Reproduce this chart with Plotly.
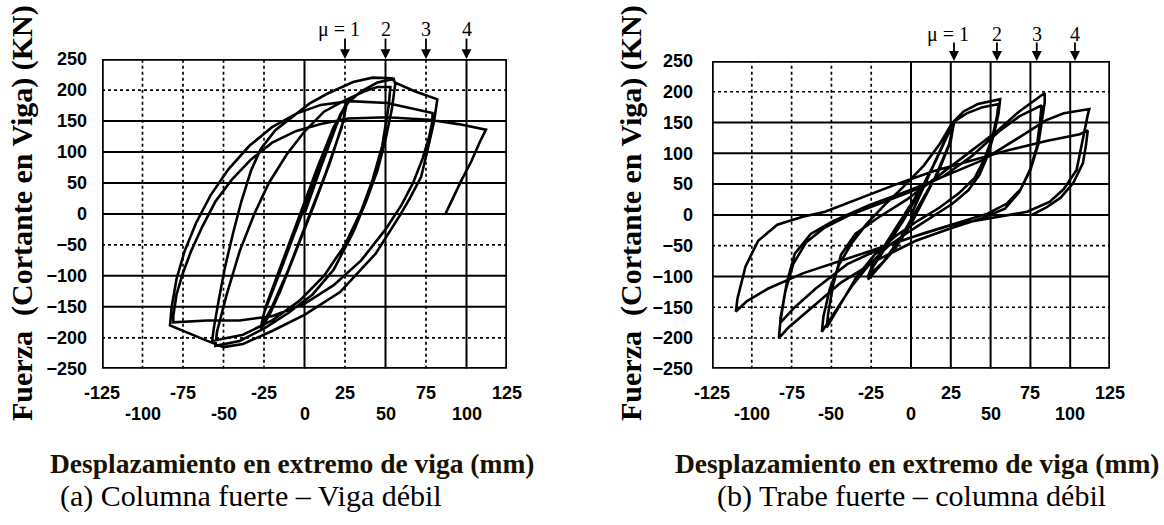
import plotly.graph_objects as go

# Panel (a): beam-tip displacement (mm) and beam shear (kN), cycle by cycle
disp_a = [0, 10, 20, 26,
          24, 16, 6, -5, -15, -22, -27,
          -25, -16, -6, 5, 15, 22, 26,
          23, 13, 2, -10, -20, -27,
          -24, -14, -3, 8, 18, 27, 35, 45, 55, 56,
          54, 50, 45, 38, 30, 18, 5, -10, -25, -40, -55,
          -54, -48, -40, -31, -22, -11, 0, 12, 24, 37, 45, 53,
          52, 48, 42, 35, 25, 12, -3, -20, -38, -57,
          -56, -53, -49, -44, -39, -33, -27, -18, -7, 3, 14, 30, 42, 54, 56, 68, 82, 81,
          80, 77, 72, 65, 59, 44, 22, 0, -20, -38, -50, -60, -72, -83,
          -82, -79, -74, -67, -58, -47, -34, -20, -5, 10, 28, 51, 79,
          79, 77, 73, 67, 60, 50, 35, 18, 0, -20, -40, -60, -81, -81,
          -79, -75, -70, -63, -55, -45, -33, -20, -5, 10, 27, 51, 77, 95, 112,
          108, 103, 97, 92, 87]
force_a = [0, 75, 145, 180,
           150, 85, 15, -60, -125, -165, -185,
           -160, -100, -30, 45, 115, 160, 178,
           140, 65, -10, -90, -150, -183,
           -150, -80, 0, 75, 140, 180, 198, 212, 218, 210,
           170, 120, 70, 20, -30, -90, -130, -160, -185, -205, -213,
           -190, -130, -60, 0, 50, 96, 133, 165, 182, 198, 205, 205,
           175, 110, 55, 5, -50, -100, -140, -172, -195, -205,
           -185, -140, -85, -30, 20, 70, 105, 135, 158, 178, 194, 213, 220, 219, 212, 198, 185, 170,
           150, 115, 60, 25, -2, -64, -126, -163, -189, -210, -215, -205, -192, -180,
           -150, -105, -60, -15, 30, 72, 110, 140, 162, 176, 182, 179, 163,
           150, 125, 90, 50, 15, -25, -75, -115, -145, -165, -172, -172, -175, -165,
           -130, -95, -60, -20, 20, 55, 88, 115, 134, 145, 154, 156, 152, 145, 136,
           115, 85, 55, 28, 0]

# Panel (b)
disp_b = [0, 8, 16, 22, 27,
          25, 18, 10, 0, -10, -20, -27,
          -24, -15, -5, 5, 14, 21, 27,
          24, 15, 5, -6, -17, -27,
          -24, -14, -3, 8, 16, 22, 27, 33, 42, 56,
          55, 52, 48, 43, 36, 26, 14, 0, -14, -26, -37, -46, -52, -56,
          -55, -51, -45, -37, -28, -17, -5, 8, 18, 26, 35, 45, 55,
          54, 51, 46, 40, 30, 18, 4, -10, -23, -34, -43, -50, -53,
          -52, -49, -44, -35, -21, -2, 17, 35, 54, 68, 84,
          84, 82, 80, 75, 68, 59, 45, 26, 3, -21, -44, -63, -77, -83,
          -82, -79, -74, -66, -55, -40, -20, 0, 20, 38, 55, 68, 82,
          81, 79, 75, 69, 60, 48, 30, 8, -15, -40, -60, -73, -82,
          -82, -78, -73, -63, -49, -26, -2, 21, 45, 68, 85, 96, 112,
          111, 108, 104, 96, 87, 73, 50, 26, 2, -21, -44, -68, -90, -103, -110,
          -109, -104, -96, -84, -68, -54, -33, -9, 14, 38, 61, 85, 106, 111,
          110, 108, 102, 94, 85, 76]
force_b = [0, 45, 90, 125, 150,
           120, 75, 35, -15, -55, -85, -105,
           -85, -50, -10, 35, 80, 120, 148,
           115, 60, 15, -35, -75, -100,
           -80, -40, 5, 50, 90, 125, 152, 168, 180, 188,
           165, 130, 95, 65, 40, 18, -2, -25, -50, -80, -115, -150, -175, -190,
           -165, -120, -80, -45, -15, 15, 45, 80, 115, 150, 165, 175, 180,
           160, 125, 90, 60, 35, 12, -10, -35, -65, -100, -140, -170, -183,
           -160, -115, -65, -31, -5, 26, 63, 99, 136, 168, 198,
           183, 152, 115, 73, 37, 10, -5, -21, -42, -73, -110, -152, -183, -200,
           -172, -125, -80, -45, -22, -2, 18, 38, 62, 95, 135, 160, 178,
           150, 110, 75, 42, 18, 2, -12, -30, -50, -80, -120, -150, -175,
           -168, -110, -63, -31, -10, 16, 39, 63, 89, 126, 154, 165, 172,
           162, 126, 73, 42, 21, 5, -5, -16, -35, -55, -75, -95, -120, -140, -157,
           -136, -84, -42, -16, -3, 5, 26, 50, 71, 89, 105, 120, 131, 137,
           115, 84, 52, 28, 12, 0]

x_ticks = [-125, -100, -75, -50, -25, 0, 25, 50, 75, 100, 125]
y_ticks = [-250, -200, -150, -100, -50, 0, 50, 100, 150, 200, 250]

# Grid styles per panel: True = solid, False = dotted
vgrid_a = {-100: False, -75: False, -50: False, -25: False, 0: True, 25: False, 50: True, 75: False, 100: True}
hgrid_a = {-200: False, -150: True, -100: True, -50: False, 0: True, 50: True, 100: True, 150: True, 200: False}
vgrid_b = {-100: False, -75: False, -50: False, -25: False, 0: True, 25: True, 50: True, 75: True, 100: True}
hgrid_b = {-200: False, -150: False, -100: True, -50: False, 0: True, 50: True, 100: True, 150: True, 200: False}

mu_labels = ["\u03bc = 1", "2", "3", "4"]
mu_pos_a = [25, 50, 75, 100]
mu_pos_b = [27, 54, 79, 103]

x_title = "Desplazamiento en extremo de viga (mm)"
y_title = "Fuerza\u00a0 (Cortante en Viga) (KN)"
captions = ["(a) Columna fuerte \u2013 Viga d\u00e9bil", "(b) Trabe fuerte \u2013 columna d\u00e9bil"]

W, H = 1164, 525
dom_a = ([102 / W, 507 / W], [1 - 373 / H, 1 - 51 / H])
dom_b = ([712 / W, 1110 / W], [1 - 373 / H, 1 - 53 / H])

fig = go.Figure()

# axis refs, data, grid styles, arrows, domain, title x, caption x, y-title x, mu label y, arrow length
panels = [
    ("x", "y", disp_a, force_a, vgrid_a, hgrid_a, mu_pos_a, dom_a, 292, 251, 22, 20, 22),
    ("x2", "y2", disp_b, force_b, vgrid_b, hgrid_b, mu_pos_b, dom_b, 917, 911, 631, 25, 20),
]

tick_font = dict(family="Liberation Sans", size=18, color="black", weight="bold")
shapes = []
annotations = []

for i, (xr, yr, dx, fy, vg, hg, mupos, dom, tx, cpx, ytx, muy, alen) in enumerate(panels):
    fig.add_trace(go.Scatter(x=dx, y=fy, xaxis=xr, yaxis=yr, mode="lines",
                             line=dict(color="black", width=2.6),
                             hoverinfo="skip", showlegend=False))
    # grid lines
    for v, solid in vg.items():
        shapes.append(dict(type="line", xref=xr, yref=yr, x0=v, x1=v, y0=-250, y1=250,
                           line=dict(color="black", width=2 if solid else 1.7, dash="solid" if solid else "dot"),
                           layer="below"))
    for v, solid in hg.items():
        shapes.append(dict(type="line", xref=xr, yref=yr, x0=-125, x1=125, y0=v, y1=v,
                           line=dict(color="black", width=2 if solid else 1.7, dash="solid" if solid else "dot"),
                           layer="below"))
    # frame
    shapes.append(dict(type="rect", xref=xr, yref=yr, x0=-125, x1=125, y0=-250, y1=250,
                       line=dict(color="black", width=3.5), layer="above"))
    # staggered x tick labels
    for k, t in enumerate(x_ticks):
        annotations.append(dict(x=t, y=dom[1][0], xref=xr, yref="paper", text=str(t),
                                showarrow=False, font=tick_font, xanchor="center", yanchor="middle",
                                yshift=-24 if k % 2 == 0 else -45))
    # ductility arrows and labels
    for k, (p, lab) in enumerate(zip(mupos, mu_labels)):
        annotations.append(dict(x=p, y=250, xref=xr, yref=yr, ax=0, ay=-alen,
                                text="", showarrow=True, arrowhead=2, arrowsize=1.1, arrowwidth=1.8,
                                arrowcolor="black", standoff=0))
        annotations.append(dict(x=p, y=1 - muy / H, xref=xr, yref="paper", text=lab,
                                showarrow=False, xanchor="center", yanchor="middle",
                                xshift=-6 if k == 0 else 0,
                                font=dict(family="Liberation Serif", size=20, color="black")))
    annotations.append(dict(x=tx / W, y=1 - 471 / H, xref="paper", yref="paper", text="<b>" + x_title + "</b>",
                            showarrow=False, xanchor="center", yanchor="middle",
                            font=dict(family="Liberation Serif", size=27.5, color="#1a1200")))
    annotations.append(dict(x=cpx / W, y=1 - 505 / H, xref="paper", yref="paper", text=captions[i],
                            showarrow=False, xanchor="center", yanchor="middle",
                            font=dict(family="Liberation Serif", size=30, color="black")))
    annotations.append(dict(x=ytx / W, y=1 - 211 / H, xref="paper", yref="paper",
                            text="<b>" + y_title + "</b>", textangle=-90, showarrow=False,
                            xanchor="center", yanchor="middle",
                            font=dict(family="Liberation Serif", size=30, color="black")))

common_x = dict(range=[-125, 125], showgrid=False, zeroline=False, showticklabels=False, ticks="",
                fixedrange=True)
common_y = dict(range=[-250, 250], showgrid=False, zeroline=False, tickvals=y_ticks, ticks="",
                tickfont=tick_font, fixedrange=True)

fig.update_layout(
    width=W, height=H, margin=dict(l=0, r=0, t=0, b=0),
    paper_bgcolor="white", plot_bgcolor="white",
    xaxis=dict(domain=dom_a[0], anchor="y", **common_x),
    yaxis=dict(domain=dom_a[1], anchor="x", ticklabelstandoff=14, **common_y),
    xaxis2=dict(domain=dom_b[0], anchor="y2", **common_x),
    yaxis2=dict(domain=dom_b[1], anchor="x2", ticklabelstandoff=18, **common_y),
    shapes=shapes, annotations=annotations,
)

fig.write_html("out.html")
